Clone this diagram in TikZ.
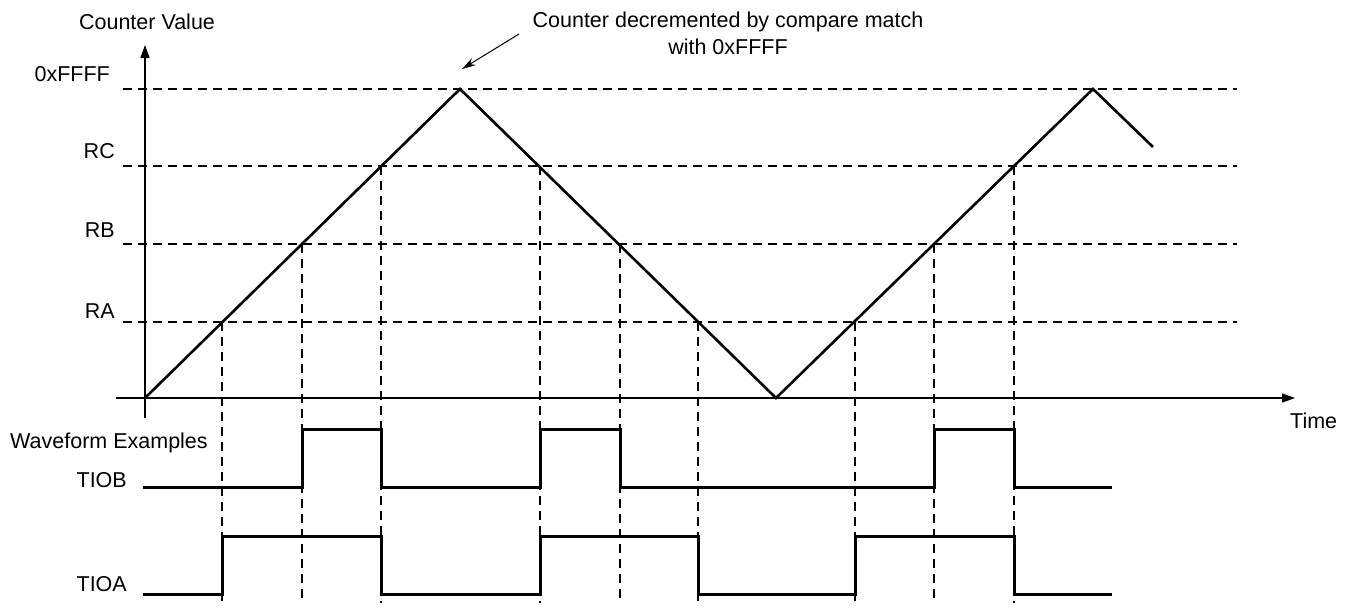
\documentclass[tikz,border=0pt]{standalone}
\usepackage{fontspec}
\setmainfont{Liberation Sans}
\usetikzlibrary{arrows.meta}

\begin{document}
\begin{tikzpicture}[x=1pt, y=-1pt,
  lbl/.style={inner sep=0pt, font=\fontsize{21.5}{27}\selectfont},
  level/.style={line width=1.3pt, dash pattern=on 9pt off 6pt},
  axis/.style={line width=1.3pt, -{Triangle[length=13pt,width=9pt]}},
  ramp/.style={line width=2.6pt},
  wave/.style={line width=3pt}]
\useasboundingbox (0,0) rectangle (1348,608);
% compare levels
\foreach \y in {89,166,244,322}
  \draw[level] (123,\y) -- (1237,\y);
% compare matches
\foreach \x/\y in {222/322, 302/244, 381/166, 540/166, 620/244,
                   698/322, 855/322, 934/244, 1014/166}
  \draw[level] (\x,\y) -- (\x,603);
\draw[axis] (145,418) -- (145,45);
\draw[axis] (116,398) -- (1295,398);
\draw[ramp] (145,398) -- (460,89) -- (776,398) -- (1093,89) -- (1153,147);
% waveforms
\draw[wave] (143,487) -| (302,429) -| (381,487) -| (540,429) -| (620,487)
  -| (934,429) -| (1014,487) -- (1112,487);
\draw[wave] (143,594) -| (222,536) -| (381,594) -| (540,536) -| (698,594)
  -| (855,536) -| (1014,594) -- (1112,594);
% labels
\node[lbl, anchor=base] (cval) at (147,29) {Counter Value};
\node[lbl, anchor=base east] (ffff) at (110,81) {0xFFFF};
\node[lbl, anchor=base east] (rc) at (115,158) {RC};
\node[lbl, anchor=base east] (rb) at (115,237) {RB};
\node[lbl, anchor=base east] (ra) at (115,318) {RA};
\node[lbl, anchor=base west] (wfex) at (10,448) {Waveform Examples};
\node[lbl, anchor=base east] (tiob) at (127,487) {TIOB};
\node[lbl, anchor=base east] (tioa) at (127,591) {TIOA};
\node[lbl, anchor=base west] (time) at (1290,428) {Time};
\node[lbl, align=center, anchor=north] (note) at (728,11.5)
  {Counter decremented by compare match\\with 0xFFFF};
\coordinate (notestart) at (519,34);
\coordinate (peak) at (462,69);
\draw[line width=1pt, -{Stealth[length=14pt,width=8pt]}] (notestart) -- (peak);
\end{tikzpicture}
\end{document}
